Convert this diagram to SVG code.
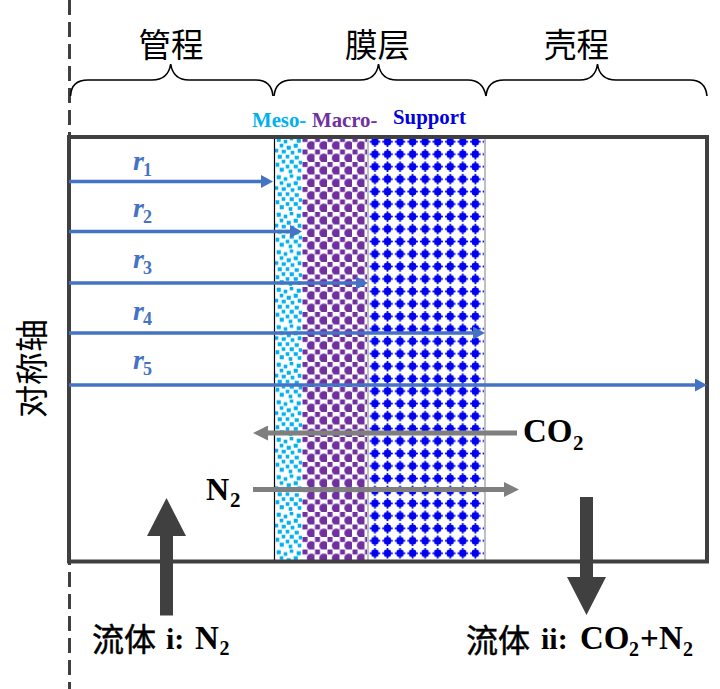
<svg xmlns="http://www.w3.org/2000/svg" width="720" height="689" viewBox="0 0 720 689">
<style>
.cjk{font-family:"Noto Sans CJK SC","Noto Sans",sans-serif;fill:#000}
.cjkb{font-family:"Noto Sans CJK SC","Noto Sans",sans-serif;fill:#000;font-weight:400;stroke:#000;stroke-width:.5}
.ser{font-family:"Liberation Serif",serif;font-weight:700;fill:#000}
.lab{font-family:"Liberation Serif",serif;font-weight:700;font-size:20.800px}
.r{font-family:"Liberation Serif",serif;font-weight:700;font-style:italic;font-size:28px;fill:#4472C4}
.rs{font-family:"Liberation Serif",serif;font-weight:700;font-size:18px;fill:#4472C4}
.blue{stroke:#4472C4;stroke-width:3.4;fill:none}
.gray{stroke:#7F7F7F;stroke-width:5;fill:none}
.brace{fill:none;stroke:#000;stroke-width:1.6}
</style>
<defs>
<marker id="bh" markerUnits="userSpaceOnUse" markerWidth="13" markerHeight="13" refX="7" refY="6.5" orient="auto"><path d="M0 0L12 6.500L0 13Z" fill="#4472C4"/></marker>
<marker id="gh" markerUnits="userSpaceOnUse" markerWidth="15" markerHeight="15" refX="7" refY="7.5" orient="auto"><path d="M0 0L15 7.5L0 15Z" fill="#7F7F7F"/></marker>
<pattern id="meso" patternUnits="userSpaceOnUse" x="275" y="137" width="27" height="37.5">
<g fill="#00B0F0" stroke="#00B0F0" stroke-width=".6">
<rect x="2" y="1" width="3.5" height="3.5"/><rect x="9" y="3" width="3" height="3"/><rect x="15" y="0" width="3" height="3"/><rect x="22" y="2" width="3.5" height="3.5"/>
<rect x="5" y="7" width="3" height="3"/><rect x="12" y="9" width="3.5" height="3.5"/><rect x="19" y="7" width="3.5" height="3.5"/>
<rect x="0" y="12" width="3" height="3"/><rect x="7" y="13" width="3.5" height="3"/><rect x="16" y="14" width="3" height="3"/><rect x="23" y="12" width="3" height="3.5"/>
<rect x="3" y="18" width="3.5" height="3.5"/><rect x="11" y="18" width="3" height="3"/><rect x="20" y="19" width="3.5" height="3"/>
<rect x="7" y="23" width="3" height="3"/><rect x="15" y="23" width="3.5" height="3.5"/><rect x="24" y="24" width="3" height="3"/>
<rect x="1" y="26" width="3" height="3.5"/><rect x="11" y="28" width="3" height="3"/><rect x="19" y="28" width="3.5" height="3"/>
<rect x="5" y="31" width="3.5" height="3.5"/><rect x="14" y="33" width="3" height="3"/><rect x="23" y="32" width="3" height="3"/>
</g>
</pattern>
<pattern id="macro" patternUnits="userSpaceOnUse" x="302" y="137" width="12.5" height="12.5">
<g fill="#7030A0">
<rect x="0.500" y="0" width="5" height="5"/>
<circle cx="9.4" cy="8.6" r="4.6"/>
</g>
</pattern>
<pattern id="sup" patternUnits="userSpaceOnUse" x="368.7" y="135.5" width="12.55" height="12.47">
<g fill="#0000F0">
<rect x="2.700" y="2.700" width="7.100" height="7.100" rx="2.200"/>
<rect x="1" y="5.400" width="10.500" height="1.700"/>
<rect x="5.400" y="1" width="1.700" height="10.500"/>
</g>
</pattern>
</defs>
<rect width="720" height="689" fill="#fff"/>

<g id="membrane">
<rect id="meso-layer" x="275" y="139" width="27" height="421" fill="url(#meso)"/>
<rect id="macro-layer" x="302" y="139" width="65" height="421" fill="url(#macro)"/>
<rect id="support-layer" x="369" y="139" width="115" height="421" fill="url(#sup)"/>
<path d="M274.5 139V560" stroke="#000" stroke-width="1.2" fill="none"/>
<path d="M368 139V560M485 139V560" stroke="#BFBFBF" stroke-width="2" fill="none"/>
</g>

<path id="axis" d="M69.5 0V689" stroke="#404040" stroke-width="3" stroke-dasharray="15 7" fill="none"/>
<rect id="vessel" x="69" y="137" width="638" height="424.5" fill="none" stroke="#404040" stroke-width="4"/>

<g id="connectors">
<path class="blue" d="M69 181.500H268" marker-end="url(#bh)"/>
<path class="blue" d="M69 231.500H297" marker-end="url(#bh)"/>
<path class="blue" d="M69 283H363" marker-end="url(#bh)"/>
<path class="blue" d="M69 333H480" marker-end="url(#bh)"/>
<path class="blue" d="M69 385H702" marker-end="url(#bh)"/>
<path class="gray" d="M517 433H261" marker-end="url(#gh)"/>
<path class="gray" d="M253 489.500H511" marker-end="url(#gh)"/>
<path id="flow-in" d="M160 615.500V536H147L166.500 498L186 536H173V615.500Z" fill="#404040"/>
<path id="flow-out" d="M580 497V577H567L586.500 615L606 577H593V497Z" fill="#404040"/>
</g>

<g id="braces">
<path class="brace" d="M70.500 96C71 86 76 80 88 80H152C162 80 169 75 170.700 64C172.400 75 179 80 189 80H256C267 80 272 86 273 96"/>
<path class="brace" d="M274 96C275 86 280 80 292 80H360C370 80 377 75 378.500 64C380 75 387 80 397 80H468C479 80 484 86 486 96"/>
<path class="brace" d="M486 96C487 86 492 80 504 80H580C590 80 596 75 597.500 64C599 75 606 80 616 80H690C701 80 706 86 707 96"/>
</g>

<g id="label-tube"><text class="cjk" x="138.500" y="56.500" font-size="32.500">管程</text></g>
<g id="label-membrane"><text class="cjk" x="345" y="56.500" font-size="32.500">膜层</text></g>
<g id="label-shell"><text class="cjk" x="544" y="56.500" font-size="32.500">壳程</text></g>
<g id="label-meso"><text class="lab" x="252" y="127" fill="#00B0F0">Meso-</text></g>
<g id="label-macro"><text class="lab" x="312" y="127" fill="#7030A0">Macro-</text></g>
<g id="label-support"><text class="lab" x="393" y="124" fill="#0000E0">Support</text></g>

<g id="r1"><text class="r" x="133" y="170">r</text><text class="rs" x="143" y="176">1</text></g>
<g id="r2"><text class="r" x="133" y="217">r</text><text class="rs" x="143" y="223">2</text></g>
<g id="r3"><text class="r" x="133" y="268">r</text><text class="rs" x="143" y="274">3</text></g>
<g id="r4"><text class="r" x="133" y="320">r</text><text class="rs" x="143" y="325">4</text></g>
<g id="r5"><text class="r" x="133" y="369">r</text><text class="rs" x="143" y="375">5</text></g>

<g id="label-axis"><text class="cjk" transform="translate(44 418) rotate(-90)" font-size="33">对称轴</text></g>

<g id="label-co2"><text class="ser" x="523" y="442" font-size="33">CO</text><text class="ser" x="573" y="450" font-size="21">2</text></g>
<g id="label-n2"><text class="ser" x="206" y="500" font-size="32">N</text><text class="ser" x="230" y="507" font-size="21">2</text></g>

<g id="label-fluid-1"><text class="cjkb" x="92" y="651" font-size="32">流体</text><text class="ser" x="166" y="648.500" font-size="30">i:</text><text class="ser" x="195" y="648.500" font-size="33">N</text><text class="ser" x="219.500" y="655" font-size="20">2</text></g>
<g id="label-fluid-2"><text class="cjkb" x="466" y="652" font-size="32">流体</text><text class="ser" x="541" y="649" font-size="30">ii:</text><text class="ser" x="580" y="649" font-size="33">CO</text><text class="ser" x="629" y="656" font-size="20">2</text><text class="ser" x="640" y="649" font-size="33">+</text><text class="ser" x="659" y="649" font-size="33">N</text><text class="ser" x="683" y="656" font-size="20">2</text></g>
</svg>
